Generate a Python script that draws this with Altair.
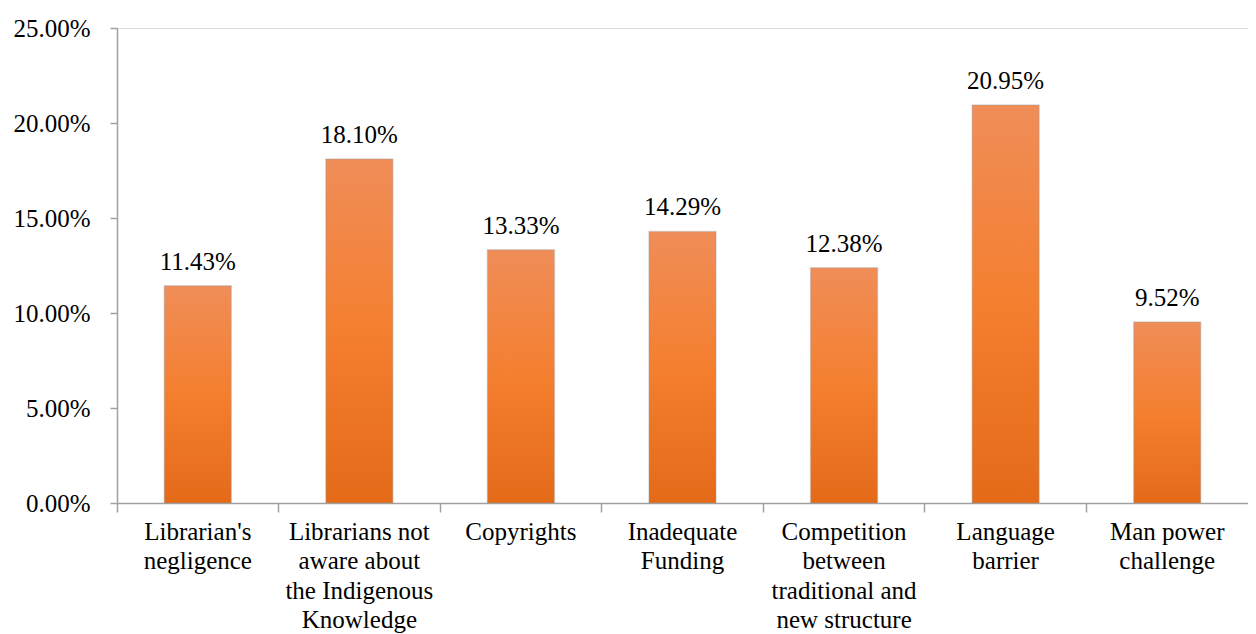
import altair as alt
import pandas as pd

categories = [
    "Librarian's\nnegligence",
    "Librarians not\naware about\nthe Indigenous\nKnowledge",
    "Copyrights",
    "Inadequate\nFunding",
    "Competition\nbetween\ntraditional and\nnew structure",
    "Language\nbarrier",
    "Man power\nchallenge",
]
values = [11.43, 18.10, 13.33, 14.29, 12.38, 20.95, 9.52]
y_ticks = [0, 5, 10, 15, 20, 25]

df = pd.DataFrame({"cat": categories, "val": values})
df["label"] = [f"{v:.2f}%" for v in values]

FONT = "Liberation Serif, Times New Roman, serif"
FS = 25
AXIS_GREY = "#A0A0A0"

x_enc = alt.X(
    "cat:N",
    sort=categories,
    scale=alt.Scale(paddingInner=0.0, paddingOuter=0.0),
    axis=alt.Axis(
        title=None,
        labelAngle=0,
        labelExpr="split(datum.label, '\\n')",
        labelFont=FONT,
        labelFontSize=FS,
        labelColor="black",
        labelLineHeight=29.5,
        labelPadding=7,
        labelBaseline="top",
        labelLimit=0,
        tickSize=9,
        tickColor=AXIS_GREY,
        domainColor=AXIS_GREY,
        domainWidth=1.5,
        tickWidth=1.5,
        grid=False,
        bandPosition=0,
    ),
)
y_enc = alt.Y(
    "val:Q",
    scale=alt.Scale(domain=[0, 25], nice=False),
    axis=alt.Axis(
        title=None,
        values=y_ticks,
        labelExpr="format(datum.value, '.2f') + '%'",
        labelFont=FONT,
        labelFontSize=FS,
        labelColor="black",
        labelPadding=20,
        tickSize=7,
        tickColor=AXIS_GREY,
        domainColor=AXIS_GREY,
        domainWidth=1.5,
        tickWidth=1.5,
        grid=False,
    ),
)

base = alt.Chart(df)

bars = base.mark_bar(
    size=67,
    color=alt.Gradient(
        gradient="linear",
        x1=0, y1=0, x2=0, y2=1,
        stops=[
            alt.GradientStop(offset=0, color="#F08D58"),
            alt.GradientStop(offset=0.5, color="#F47F2F"),
            alt.GradientStop(offset=1, color="#E46A18"),
        ],
    ),
    stroke="#9A9A9A",
    strokeOpacity=0.35,
    strokeWidth=1.5,
).encode(x=x_enc, y=y_enc)

labels = base.mark_text(
    font=FONT, fontSize=FS, color="black", dy=-16, baseline="alphabetic"
).encode(x=x_enc, y=y_enc, text="label:N")

chart = (
    alt.layer(bars, labels)
    .properties(
        width=1131,
        height=475,
        autosize=alt.AutoSizeParams(type="none"),
        padding={"left": 109, "top": 20, "right": 0, "bottom": 131},
    )
    .configure_view(stroke=None)
    .configure_axis(grid=False)
    .configure(background="white")
)

chart.save("out.html", embed_options={"renderer": "svg", "actions": False})
